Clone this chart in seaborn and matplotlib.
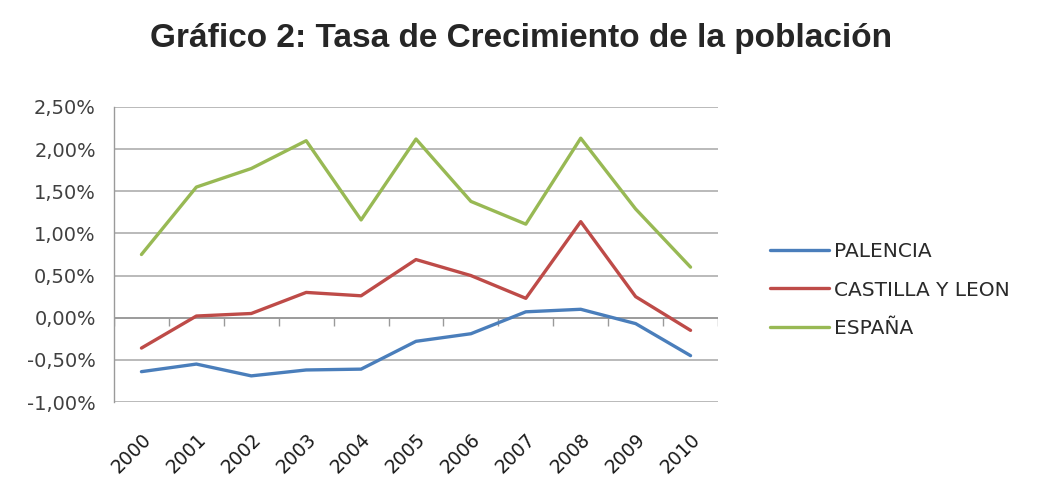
import numpy as np
import pandas as pd
import matplotlib
matplotlib.use('Agg')
import matplotlib.pyplot as plt
import seaborn as sns
from matplotlib.ticker import FuncFormatter

years = [str(y) for y in range(2000, 2011)]
palencia = [-0.64, -0.55, -0.69, -0.62, -0.61, -0.28, -0.19, 0.07, 0.10, -0.07, -0.45]
castilla = [-0.36, 0.02, 0.05, 0.30, 0.26, 0.69, 0.50, 0.23, 1.14, 0.25, -0.15]
espana = [0.75, 1.55, 1.77, 2.10, 1.16, 2.12, 1.38, 1.11, 2.13, 1.29, 0.60]
series_names = ['PALENCIA', 'CASTILLA Y LEON', 'ESPAÑA']
colors = ['#4A7EBB', '#BE4B48', '#98B954']
y_ticks = [-1.0, -0.5, 0.0, 0.5, 1.0, 1.5, 2.0, 2.5]

df = pd.DataFrame({
    'Año': years * 3,
    'Tasa': palencia + castilla + espana,
    'Serie': [n for n in series_names for _ in years],
})

sns.set_style('white')
plt.rcParams['font.family'] = ['DejaVu Sans']

fig = plt.figure(figsize=(10.42, 4.78), dpi=100)
ax = fig.add_axes([114 / 1042, 1 - 402 / 478, (718 - 114) / 1042, (402 - 107) / 478])

sns.lineplot(data=df, x='Año', y='Tasa', hue='Serie', palette=colors,
             linewidth=2.4, ax=ax, sort=False)
handles, labels = ax.get_legend_handles_labels()
ax.get_legend().remove()

ax.set_xlim(-0.5, len(years) - 0.5)
ax.set_ylim(-1.0, 2.5)
ax.set_yticks(y_ticks)
ax.yaxis.set_major_formatter(FuncFormatter(lambda v, p: f'{v:.2f}%'.replace('.', ',')))
ax.set_xlabel('')
ax.set_ylabel('')

ax.set_axisbelow(True)
ax.grid(axis='y', color='#b4b4b4', linewidth=1.3)
ax.grid(axis='x', visible=False)
for s in ['top', 'right', 'bottom']:
    ax.spines[s].set_visible(False)
ax.spines['left'].set_color('#9a9a9a')
ax.spines['left'].set_linewidth(1.0)

# eje del cero con marcas entre categorias
ax.axhline(0, color='#9a9a9a', linewidth=1.3, zorder=1)
bounds = np.arange(len(years) + 1) - 0.5
ax.vlines(bounds, -0.095, 0, color='#9a9a9a', linewidth=1.0, zorder=1)

ax.tick_params(axis='y', length=11, width=1.3, color='#b4b4b4', labelsize=14,
               labelcolor='#404040', pad=2)
ax.tick_params(axis='x', length=0, labelsize=13.5, labelcolor='#1a1a1a', pad=20)
plt.setp(ax.get_xticklabels(), rotation=45, ha='right', rotation_mode='anchor')

fig.suptitle('Gráfico 2: Tasa de Crecimiento de la población', x=0.5, y=1 - 38 / 478,
             va='center', fontsize=24, fontweight='bold', family='Liberation Sans')

fig.legend(handles, labels, loc='center left', bbox_to_anchor=(752 / 1042, 1 - 290 / 478),
           frameon=False, fontsize=14.5, handlelength=2.9, handletextpad=0.25,
           labelspacing=0.95, labelcolor='#2a2a2a')

fig.savefig('out.png', dpi=100)
